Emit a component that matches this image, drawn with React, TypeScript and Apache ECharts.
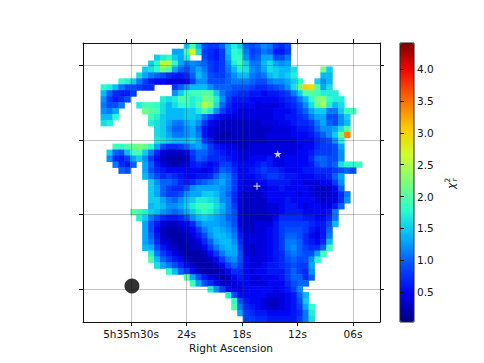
import React, { useEffect, useRef } from "react";
import * as echarts from "echarts";

const _ = null;
// Reduced chi-square, in tenths: first column of each row, then its cells.
const rowStart = [17,15,12,11,10,9,6,3,3,3,3,3,3,3,12,12,12,5,4,4,5,6,10,11,11,11,11,11,8,9,10,10,10,10,10,11,11,12,14,17,18,21,24,25,25,26,27];
const rowCells: (number | null)[][] = [
  [15,20,14,9,8,8,10,14,17,15,10,9,10,12,11,8,7,9],
  [13,13,20,27,16,8,7,6,8,14,18,17,11,8,9,11,10,6,6,8],
  [15,17,18,15,13,17,_,_,9,7,6,8,13,18,18,12,9,10,13,13,9,9,11],
  [15,18,26,25,18,13,11,12,11,10,8,7,8,12,17,19,15,11,11,14,16,13,12,13],
  [15,16,18,22,20,13,10,9,11,13,11,8,7,8,11,14,17,16,12,11,13,16,15,14,14,16,_,_,_,_,22,15],
  [16,13,11,10,9,7,6,6,7,10,14,12,9,8,8,10,12,14,14,11,10,11,14,15,14,15,17,_,_,_,_,14,14],
  [18,17,15,11,8,6,5,5,4,4,4,5,8,12,12,9,9,9,10,11,11,11,10,9,9,11,12,12,13,15,18,_,_,15,12,14],
  [18,17,14,11,9,9,8,7,7,_,_,_,8,10,12,14,14,14,12,10,10,10,9,9,9,8,7,7,8,9,10,12,16,22,30,29,20,13,16],
  [14,10,7,6,6,8,_,_,_,_,_,_,12,15,18,19,19,20,20,15,11,9,8,7,7,6,6,5,6,6,7,8,11,15,20,20,19,17,17,17],
  [12,8,6,7,9,_,_,_,_,_,17,16,17,20,19,17,18,22,21,17,12,8,6,6,6,5,5,5,5,5,6,7,8,11,14,18,22,23,18,17,17],
  [11,9,9,11,_,_,17,19,19,18,16,14,16,18,18,17,20,25,23,16,10,7,5,5,5,5,4,4,4,4,5,6,7,9,12,16,21,24,17,14,16],
  [12,11,13,_,_,_,_,21,20,19,16,14,14,14,15,15,17,20,17,12,8,6,5,4,4,4,4,4,4,5,5,5,6,8,10,13,15,15,11,11,15,19,19],
  [14,14,18,_,_,_,_,_,19,17,15,14,14,14,15,15,14,11,8,6,5,4,4,4,4,4,4,4,4,5,5,6,6,7,8,11,13,13,9,9,12,15],
  [16,17,_,_,_,_,_,_,17,16,15,13,11,11,13,14,12,8,5,4,3,3,3,3,3,3,3,4,4,4,5,5,6,7,7,8,11,13,10,9,12,14],
  [16,15,12,10,10,12,13,10,6,4,3,3,3,3,3,3,3,3,3,3,4,4,4,5,6,6,7,10,12,12,13,16,20],
  [16,15,13,11,11,12,13,11,6,4,3,2,2,3,3,3,3,3,3,4,4,4,4,5,5,5,6,8,10,12,15,21,34],
  [17,16,15,14,14,14,15,13,8,6,3,3,3,3,3,3,3,3,3,4,4,4,4,4,5,5,5,7,8,9,12,17],
  [19,18,20,21,22,21,18,13,9,7,7,8,10,12,13,11,8,6,5,4,4,3,3,4,4,4,4,4,4,4,4,4,5,5,7,8,8,9,13],
  [15,10,9,14,19,19,15,11,7,4,3,3,3,5,8,10,10,8,7,6,5,5,4,4,4,4,4,4,4,4,4,4,5,5,6,8,8,8,9,12],
  [12,7,6,8,13,15,12,8,5,3,2,2,2,3,7,10,9,7,7,7,6,5,4,4,5,5,5,6,4,4,5,5,5,5,7,10,10,9,9,12],
  [11,7,6,10,_,13,10,6,4,3,2,3,4,6,7,6,5,6,8,8,6,5,5,5,6,7,6,5,4,5,5,5,5,6,9,10,9,10,16,18,18,19],
  [10,9,_,_,13,9,7,6,5,5,5,5,5,5,4,5,7,10,9,7,5,5,6,7,8,7,7,6,5,5,5,6,6,7,7,7,8,9,10,9],
  [14,11,9,7,8,7,6,5,5,6,6,7,10,12,11,8,5,5,5,6,7,8,8,7,6,6,5,5,5,6,6,7,10,13],
  [15,12,10,10,9,7,6,7,9,10,11,12,13,11,8,5,4,4,5,5,6,6,6,6,5,5,4,4,4,5,5,8,12],
  [15,13,10,8,7,7,9,12,13,13,13,13,12,11,8,5,4,3,3,4,5,5,6,5,5,5,5,4,3,3,3,5,10],
  [15,13,10,8,8,9,12,13,13,15,15,14,12,10,7,4,3,3,3,4,5,5,5,5,5,4,5,4,3,3,3,4,7,11],
  [15,15,13,11,10,12,14,15,17,17,16,15,12,11,7,4,3,3,3,3,5,5,5,6,5,5,5,5,4,3,4,4,7,12],
  [14,15,14,12,12,13,15,17,19,19,18,16,14,11,8,4,3,3,3,3,4,4,5,6,6,5,4,5,5,4,4,6,10],
  [20,19,17,15,14,12,11,10,11,13,15,17,18,17,15,13,11,9,4,3,3,3,3,4,4,5,6,6,6,5,5,5,5,6,11],
  [17,15,11,9,7,6,6,7,9,12,14,15,14,13,12,10,9,4,3,3,3,3,3,5,7,7,7,7,6,6,5,5,7,11],
  [13,9,6,4,3,3,4,5,7,11,13,13,13,12,11,9,4,3,3,4,4,4,6,8,8,8,8,8,7,6,6,9,14],
  [13,9,5,3,2,2,3,4,5,8,11,13,14,13,12,10,5,3,3,4,4,5,6,8,9,9,9,8,6,5,6,10],
  [13,10,6,3,2,2,2,3,4,6,9,12,14,14,13,11,6,4,4,4,4,5,6,8,10,10,9,7,5,4,6,11],
  [13,11,7,4,3,2,2,3,3,4,7,10,13,14,14,12,7,4,4,4,4,5,6,8,11,11,10,7,6,5,7,14],
  [14,13,9,6,4,3,2,2,3,3,5,8,11,13,14,13,8,4,3,4,4,5,6,8,11,12,10,8,7,7,10,19],
  [17,11,8,6,4,3,2,2,2,3,5,8,11,13,13,9,4,3,4,4,5,6,7,10,11,10,9,9,13,19],
  [20,14,10,8,6,5,3,2,2,2,3,5,8,11,12,9,5,4,4,4,5,6,7,9,10,9,9,12,18],
  [16,13,11,9,7,5,3,2,2,2,3,5,8,10,8,5,4,4,5,6,6,7,8,9,8,8,13],
  [18,14,10,8,5,3,2,2,2,3,5,7,7,5,4,5,5,6,6,6,8,10,8,7,12],
  [20,13,9,6,4,3,2,3,5,6,5,4,4,5,5,5,6,8,10,10,7,10],
  [19,13,9,7,5,3,3,4,5,5,4,4,4,5,5,5,7,9,10,10],
  [17,12,8,5,4,4,5,5,5,5,5,4,5,6,8,12],
  [17,9,5,5,5,5,5,4,4,4,5,6,10,14],
  [18,9,6,5,5,4,3,3,4,5,6,9,15],
  [20,11,7,6,5,4,3,3,4,5,6,8,13,18],
  [13,8,7,6,6,5,5,5,5,6,7,11,17],
  [8,8,7,7,6,6,6,6,6,8,11,16],
];
const raTicks = [30, 24, 18, 12, 6];
const raLabels = ["5h35m30s", "24s", "18s", "12s", "06s"];
const decTicks = [0, 1, 2, 3];
const barTicks = [0.5, 1, 1.5, 2, 2.5, 3, 3.5, 4];
const jet = ["#00007f","#0000f1","#004cff","#00b0ff","#29ffce","#7dff7a","#ceff29","#ffc400","#ff6800","#f10800","#7f0000"];
const starPoint = [14.14, 1.81];
const plusPoint = [16.38, 1.38];
const beamPoint = [29.9, 0.04];

const FONT = "DejaVu Sans";
const COLS = 50;
const RAW = { min: 3.08, max: 35.19 };
const DEC = { min: -0.442, max: 3.3 };

export default function App() {
  const ref = useRef<HTMLDivElement>(null);
  useEffect(() => {
    document.body.style.margin = "0";
    const chart = echarts.init(ref.current!, null, { renderer: "svg" });
    const data: any[] = [];
    rowCells.forEach((cells, r) => {
      cells.forEach((v, i) => {
        if (v !== null) data.push([rowStart[r] + i, r, v / 10]);
      });
    });
    const valueX = (position: string, labelled: boolean) => ({
      type: "value", gridIndex: 0, position, inverse: true, min: RAW.min, max: RAW.max, z: 5,
      axisLine: { show: true, onZero: false, lineStyle: { color: "#111", width: 1 } },
      axisTick: { show: true, length: 4, customValues: raTicks, lineStyle: { color: "#111", width: 1 } },
      axisLabel: {
        show: labelled, customValues: raTicks, fontFamily: FONT, fontSize: 10.5, color: "#111", margin: 6,
        formatter: (v: number) => raLabels[raTicks.indexOf(Math.round(v))] ?? "",
      },
      splitLine: labelled ? { show: true, lineStyle: { color: "rgba(60,60,60,0.3)", width: 1 } } : { show: false },
    });
    const valueY = (position: string, grid: boolean) => ({
      type: "value", gridIndex: 0, position, min: DEC.min, max: DEC.max, z: 5,
      axisLine: { show: true, onZero: false, lineStyle: { color: "#111", width: 1 } },
      axisTick: { show: true, length: 4, customValues: decTicks, lineStyle: { color: "#111", width: 1 } },
      axisLabel: { show: false },
      splitLine: grid ? { show: true, lineStyle: { color: "rgba(60,60,60,0.3)", width: 1 } } : { show: false },
    });
    chart.setOption({
      animation: false,
      grid: [
        { left: 83, top: 43, width: 297, height: 279 },
        { left: 400, top: 43, width: 14, height: 279 },
      ],
      xAxis: [
        { type: "category", gridIndex: 0, show: false, data: Array.from({ length: COLS }, (_v, i) => i) },
        valueX("bottom", true),
        valueX("top", false),
        { type: "value", gridIndex: 1, show: false, min: 0, max: 1 },
      ],
      yAxis: [
        { type: "category", gridIndex: 0, show: false, inverse: true, data: rowCells.map((_v, i) => i) },
        valueY("left", true),
        valueY("right", false),
        {
          type: "value", gridIndex: 1, position: "right", min: 0.03, max: 4.41, z: 5,
          axisLine: { show: false },
          splitLine: { show: false },
          axisTick: { show: true, length: 4, customValues: barTicks, lineStyle: { color: "#111" } },
          axisLabel: {
            show: true, customValues: barTicks, fontFamily: FONT, fontSize: 10.5, color: "#111", margin: 3,
            formatter: (v: number) => v.toFixed(1),
          },
        },
      ],
      visualMap: {
        show: true, type: "continuous", seriesIndex: 0, dimension: 2, min: 0.03, max: 4.41,
        left: 400, top: 43, itemWidth: 14, itemHeight: 279, padding: 0, calculable: false,
        text: ["", ""], showLabel: false, hoverLink: false, realtime: false,
        textStyle: { fontSize: 1, color: "transparent" },
        inRange: { color: jet },
      },
      graphic: [
        { type: "rect", shape: { x: 400, y: 43, width: 14, height: 279 }, style: { fill: "none", stroke: "#222", lineWidth: 1 }, z: 100 },
        { type: "text", x: 231, y: 348, style: { text: "Right Ascension", font: `10.5px '${FONT}'`, fill: "#111", textAlign: "center", textVerticalAlign: "middle" } },
        { type: "text", x: 451, y: 186, rotation: Math.PI / 2, style: { text: "χ", font: `italic 10.5px '${FONT}'`, fill: "#111", textAlign: "center", textVerticalAlign: "middle" } },
        { type: "text", x: 447, y: 180, rotation: Math.PI / 2, style: { text: "2", font: `7.5px '${FONT}'`, fill: "#111", textAlign: "center", textVerticalAlign: "middle" } },
        { type: "text", x: 454, y: 180, rotation: Math.PI / 2, style: { text: "r", font: `italic 7.5px '${FONT}'`, fill: "#111", textAlign: "center", textVerticalAlign: "middle" } },
      ],
      series: [
        { type: "heatmap", xAxisIndex: 0, yAxisIndex: 0, data, z: 2, emphasis: { disabled: true } },
        { type: "scatter", xAxisIndex: 1, yAxisIndex: 1, z: 6, symbol: "circle", symbolSize: 15, itemStyle: { color: "#000" }, data: [beamPoint] },
        { type: "scatter", xAxisIndex: 1, yAxisIndex: 1, z: 6, symbol: "path://M50 0L62 36L100 36L69 59L81 97L50 73L19 97L31 59L0 36L38 36Z", symbolSize: 8, itemStyle: { color: "#fff" }, data: [starPoint] },
        { type: "scatter", xAxisIndex: 1, yAxisIndex: 1, z: 6, symbol: "path://M42 0H58V42H100V58H58V100H42V58H0V42H42Z", symbolSize: 7, itemStyle: { color: "#fff" }, data: [plusPoint] },
      ],
    });
    return () => chart.dispose();
  }, []);
  return <div ref={ref} style={{ position: "fixed", left: 0, top: 0, width: 484, height: 363, background: "#fff" }} />;
}
